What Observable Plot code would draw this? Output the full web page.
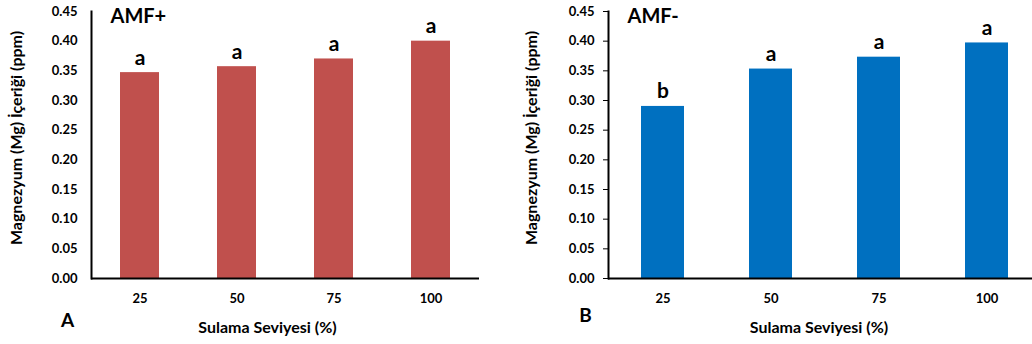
<!DOCTYPE html>
<html>
<head>
<meta charset="utf-8">
<script src="https://cdn.jsdelivr.net/npm/d3@7"></script>
<script src="https://cdn.jsdelivr.net/npm/@observablehq/plot@0.6"></script>
<style>
  html, body { margin: 0; padding: 0; background: #fff; overflow: hidden; }
  #wrap { display: flex; width: 1032px; height: 344px; overflow: hidden; }
  #wrap > svg, #wrap > figure { flex-shrink: 0; margin: 0; }
</style>
</head>
<body>
<div id="wrap"></div>
<script>
const levels = ["25", "50", "75", "100"];
const amfPlus = [0.347, 0.357, 0.370, 0.400];
const amfMinus = [0.290, 0.353, 0.373, 0.397];
const lettersPlus = ["a", "a", "a", "a"];
const lettersMinus = ["b", "a", "a", "a"];
const yTicks = [0, 0.05, 0.10, 0.15, 0.20, 0.25, 0.30, 0.35, 0.40, 0.45];
const yLabel = "Magnezyum (Mg) İçeriği (ppm)";
const xLabel = "Sulama Seviyesi (%)";

const FONT = "Lato, 'Open Sans', sans-serif";

function panel({values, letters, color, title, tag, width, marginLeft, marginRight, tickSize, tickPadding, xTitleDx, yTitleDx, tagDx, tagDy}) {
  const data = levels.map((l, i) => ({level: l, value: values[i], letter: letters[i]}));
  return Plot.plot({
    width, height: 344,
    marginLeft, marginRight, marginTop: 11, marginBottom: 66,
    style: {fontFamily: FONT, fontSize: "13px", fontWeight: "bold", color: "#000", background: "#fff", overflow: "visible"},
    x: {domain: levels, paddingInner: 0.6, paddingOuter: 0.3, label: null, tickSize: 0, tickPadding: 15},
    y: {domain: [0, 0.45], ticks: yTicks, tickFormat: d3.format(".2f"), label: null, tickSize, tickPadding},
    marks: [
      Plot.barY(data, {x: "level", y: "value", fill: color}),
      Plot.frame({anchor: "left", stroke: "#000", strokeWidth: 2}),
      Plot.ruleY([0], {stroke: "#000", strokeWidth: 2}),
      Plot.text(data, {x: "level", y: "value", text: "letter", lineAnchor: "bottom", dy: -8, fontSize: 21, fontWeight: "bold", fill: "#000"}),
      Plot.text([title], {frameAnchor: "top-left", text: d => d, dx: 19, dy: 5, lineAnchor: "middle", textAnchor: "start", fontSize: 20, fontWeight: "bold", fill: "#000"}),
      Plot.text([tag], {frameAnchor: "bottom-left", text: d => d, dx: tagDx, dy: tagDy, lineAnchor: "middle", textAnchor: "middle", fontSize: 19, fontWeight: "bold", fill: "#000"}),
      Plot.text([xLabel], {frameAnchor: "bottom", text: d => d, dx: xTitleDx, dy: 49, lineAnchor: "middle", textAnchor: "middle", fontSize: 16, fontWeight: "bold", fill: "#000"}),
      Plot.text([yLabel], {frameAnchor: "left", text: d => d, dx: yTitleDx, dy: -7, rotate: -90, lineAnchor: "middle", textAnchor: "middle", fontSize: 16, fontWeight: "bold", fill: "#000"})
    ]
  });
}

const wrap = document.getElementById("wrap");
wrap.appendChild(panel({
  values: amfPlus, letters: lettersPlus, color: "#C0504D", title: "AMF+", tag: "A",
  width: 516, marginLeft: 91, marginRight: 37, tickSize: 0, tickPadding: 14,
  xTitleDx: -18, yTitleDx: -75, tagDx: -24, tagDy: 42
}));
wrap.appendChild(panel({
  values: amfMinus, letters: lettersMinus, color: "#0070C0", title: "AMF-", tag: "B",
  width: 525, marginLeft: 92, marginRight: 0, tickSize: 5, tickPadding: 9,
  xTitleDx: -6, yTitleDx: -77, tagDx: -23, tagDy: 37
}));
</script>
</body>
</html>
